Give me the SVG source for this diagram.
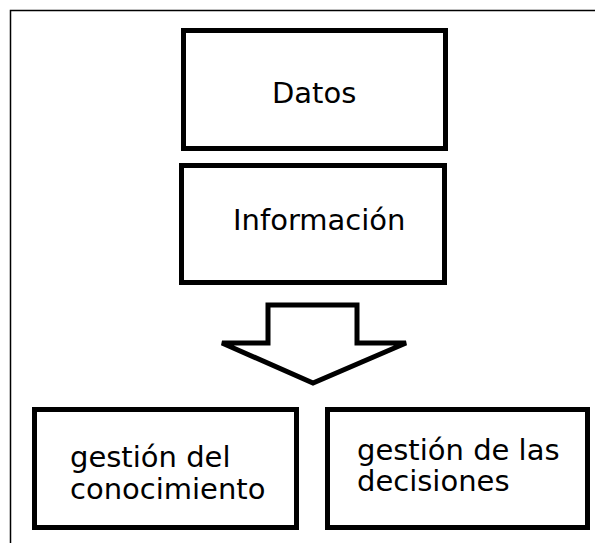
<svg xmlns="http://www.w3.org/2000/svg" width="595" height="543" viewBox="0 0 595 543">
<style>
.box{fill:#fff;stroke:#000;stroke-width:5}
.t{font-family:"DejaVu Sans","Verdana",sans-serif;font-size:29px;fill:#000}
.frame{stroke:#000;stroke-width:1.5;fill:none}
</style>
<rect width="595" height="543" fill="#fff"/>
<path class="frame" d="M10.5,543 V10.5 H595"/>
<g id="datos">
<rect class="box" x="183.5" y="30.5" width="262" height="118"/>
<text class="t" x="272" y="103">Datos</text>
</g>
<g id="informacion">
<rect class="box" x="181.5" y="165.5" width="263" height="117"/>
<text class="t" x="233" y="230">Información</text>
</g>
<g id="connectors">
<polygon points="268,305 357,305 357,343 406,343 313,383 222,343 268,343" fill="#fff" stroke="#000" stroke-width="5" stroke-linejoin="miter"/>
</g>
<g id="gestion-conocimiento">
<rect class="box" x="34.5" y="409.5" width="262" height="118"/>
<text class="t" x="70" y="467">gestión del</text>
<text class="t" x="70" y="499">conocimiento</text>
</g>
<g id="gestion-decisiones">
<rect class="box" x="327.5" y="409.5" width="260" height="118"/>
<text class="t" x="357" y="460">gestión de las</text>
<text class="t" x="357" y="491">decisiones</text>
</g>
</svg>
